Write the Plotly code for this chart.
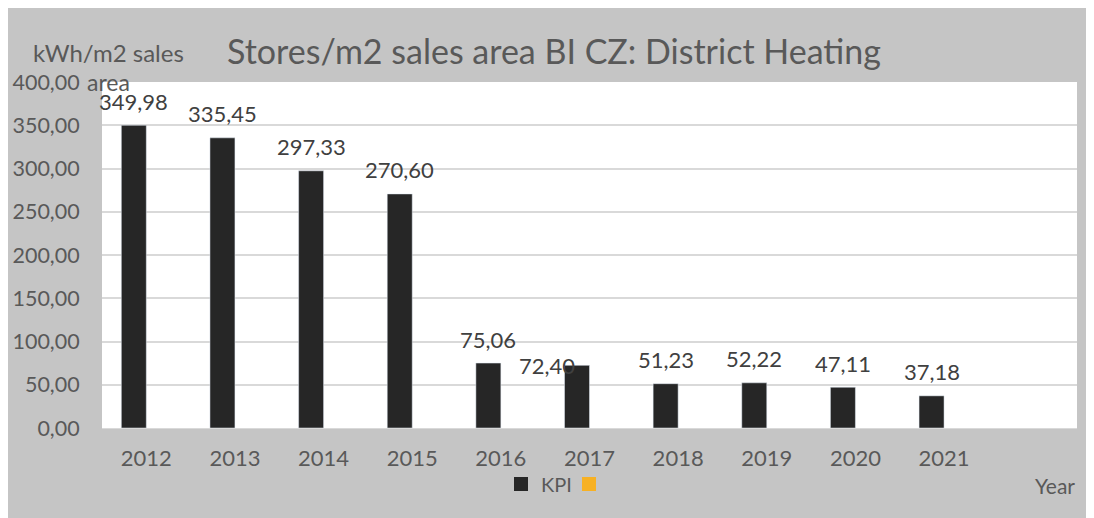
import plotly.graph_objects as go

years = ["2012", "2013", "2014", "2015", "2016", "2017", "2018", "2019", "2020", "2021"]
kpi = [349.98, 335.45, 297.33, 270.60, 75.06, 72.40, 51.23, 52.22, 47.11, 37.18]
second = [None] * len(years)

y_ticks = [0, 50, 100, 150, 200, 250, 300, 350, 400]

font = "Lato"
grey_txt = "#595959"
bar_col = "#262626"
orange = "#f7b124"
bg = "#c5c5c5"

W, H = 1086, 510
L, R, T, B = 94, 17, 74, 90
pw, ph = W - L - R, H - T - B

fig = go.Figure()
fig.add_trace(go.Bar(x=years, y=kpi, name="KPI", marker_color=bar_col, showlegend=False))
fig.add_trace(go.Bar(x=years, y=second, name="", marker_color=orange, showlegend=False))

# legend entries with bigger square swatches
fig.add_trace(go.Scatter(x=[None], y=[None], mode="markers", name="KPI",
                         marker=dict(symbol="square", size=14, color=bar_col)))
fig.add_trace(go.Scatter(x=[None], y=[None], mode="markers", name="",
                         marker=dict(symbol="square", size=14, color=orange)))

# data labels above the KPI bars (KPI bar sits in the left half of the group)
nudge = {"2017": (-30, -24)}
for i, (yr, v) in enumerate(zip(years, kpi)):
    dx, dy = nudge.get(yr, (0, 0))
    fig.add_annotation(x=i, y=v, xref="x", yref="y", text=f"{v:.2f}".replace(".", ","),
                       showarrow=False, xshift=-12.5 + dx, yshift=24 + dy,
                       xanchor="center", yanchor="middle",
                       font=dict(family=font, size=22, color="#404040"))

# axis titles
fig.add_annotation(x=(100 - L) / pw, y=1 + 30 / ph, xref="paper", yref="paper",
                   text="kWh/m2 sales", showarrow=False, xanchor="center", yanchor="middle",
                   font=dict(family=font, size=24, color=grey_txt))
fig.add_annotation(x=(100 - L) / pw, y=1 + 0 / ph, xref="paper", yref="paper",
                   text="area", showarrow=False, xanchor="center", yanchor="middle",
                   font=dict(family=font, size=23, color=grey_txt))
fig.add_annotation(x=1.0, y=-57 / ph, xref="paper", yref="paper", text="Year",
                   showarrow=False, xanchor="right", yanchor="middle",
                   font=dict(family=font, size=21, color=grey_txt))

fig.update_layout(
    width=W, height=H,
    margin=dict(l=L, r=R, t=T, b=B, autoexpand=False),
    paper_bgcolor=bg, plot_bgcolor="white",
    barmode="group", bargap=0.436, bargroupgap=0,
    separators=",.",
    title=dict(text="Stores/m2 sales area BI CZ: District Heating", x=546 / W,
               xanchor="center", y=1 - 44 / H, yanchor="middle",
               font=dict(family=font, size=34, color=grey_txt)),
    legend=dict(orientation="h", x=(493 - L) / pw, y=-56 / ph, xanchor="left", yanchor="middle",
                bgcolor="rgba(0,0,0,0)", font=dict(family=font, size=20, color=grey_txt),
                entrywidth=23, entrywidthmode="pixels", itemsizing="trace"),
    font=dict(family=font, color=grey_txt),
)
fig.update_xaxes(range=[-0.5, 10.5], showgrid=False, showline=True, linecolor="#d9d9d9",
                 ticks="outside", ticklen=11, tickcolor="rgba(0,0,0,0)", automargin=False,
                 tickfont=dict(family=font, size=22, color=grey_txt))
fig.update_yaxes(range=[0, 400], tickvals=y_ticks, tickformat=".2f", showgrid=True,
                 gridcolor="#d9d9d9", gridwidth=1.5, zeroline=False, automargin=False,
                 ticks="outside", ticklen=17, tickcolor="rgba(0,0,0,0)",
                 tickfont=dict(family=font, size=21.5, color=grey_txt))

fig.write_html("out.html")
